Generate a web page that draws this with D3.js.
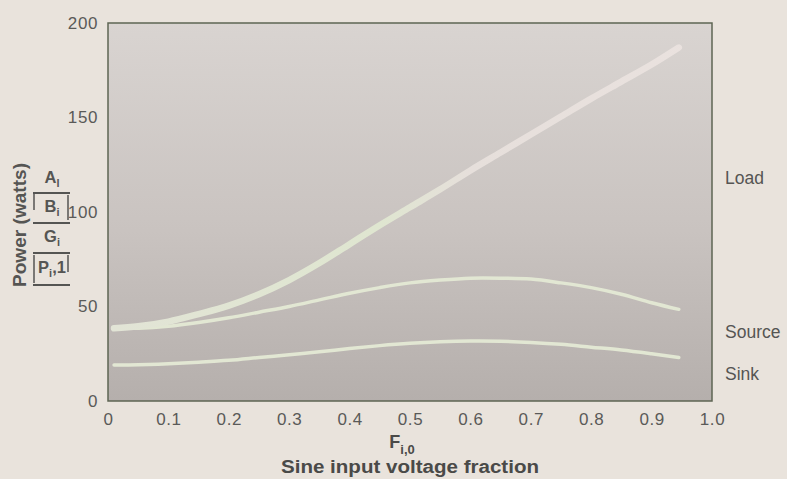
<!DOCTYPE html>
<html>
<head>
<meta charset="utf-8">
<script src="https://cdn.jsdelivr.net/npm/d3@7"></script>
<style>
  body { margin: 0; background: #e9e3dc; }
  svg { display: block; font-family: "Liberation Sans", Arial, Helvetica, sans-serif; }
</style>
</head>
<body>
<script>
// sine input voltage fraction (x) and power curves
var fraction = [0.01, 0.05, 0.1, 0.15, 0.2, 0.25, 0.3, 0.35, 0.4, 0.45, 0.5, 0.55, 0.6, 0.65, 0.7, 0.75, 0.8, 0.85, 0.9, 0.945];
var loadPower = [38.5, 39.5, 42, 46, 50.5, 56.5, 64, 73, 83, 93, 102.5, 112, 122, 131.5, 141, 150.5, 160, 169, 178, 187];
var sourcePower = [38.5, 38.5, 39.5, 41.5, 44, 47, 50, 53.5, 57, 60, 62.5, 64, 65, 65, 64.5, 62.5, 60, 56.5, 52, 48.5];
var sinkPower = [19, 19.2, 19.7, 20.5, 21.5, 23, 24.5, 26, 27.8, 29.3, 30.5, 31.3, 31.7, 31.6, 31, 30, 28.5, 27, 25, 23];

var xTicks = [0, 0.1, 0.2, 0.3, 0.4, 0.5, 0.6, 0.7, 0.8, 0.9, 1.0];
var yTicks = [0, 50, 100, 150, 200];
var seriesNames = ["Load", "Source", "Sink"];
var seriesLabelValues = [115, 33.5, 11]; // where the side labels sit on the power scale

var svg = d3.select("body").append("svg").attr("width", 787).attr("height", 479);

var x = d3.scaleLinear().domain([0, 1]).range([108, 712]);
var y = d3.scaleLinear().domain([0, 200]).range([401, 23]);

var defs = svg.append("defs");
var grad = defs.append("linearGradient").attr("id", "bg").attr("x1", 0).attr("y1", 0).attr("x2", 0).attr("y2", 1);
grad.append("stop").attr("offset", "0%").attr("stop-color", "#d9d4d1");
grad.append("stop").attr("offset", "55%").attr("stop-color", "#c9c3c0");
grad.append("stop").attr("offset", "100%").attr("stop-color", "#b5afac");

// load trace fades from greenish to pinkish white
var lg = defs.append("linearGradient").attr("id", "loadgrad").attr("gradientUnits", "userSpaceOnUse")
    .attr("x1", x(0)).attr("y1", 0).attr("x2", x(1)).attr("y2", 0);
lg.append("stop").attr("offset", "0%").attr("stop-color", "#e2e4d6");
lg.append("stop").attr("offset", "45%").attr("stop-color", "#dfe6d0");
lg.append("stop").attr("offset", "60%").attr("stop-color", "#e6dfdb");
lg.append("stop").attr("offset", "100%").attr("stop-color", "#eae2df");

// plot area
svg.append("rect")
    .attr("x", x(0)).attr("y", y(200))
    .attr("width", x(1) - x(0)).attr("height", y(0) - y(200))
    .style("fill", "url(#bg)")
    .style("stroke", "#5e6553")
    .style("stroke-width", 1.5);

// axes, labels only
var xAxis = svg.append("g").attr("transform", "translate(0," + (y(0) + 9) + ")")
    .call(d3.axisBottom(x).tickValues(xTicks).tickSize(0)
        .tickFormat(function(d) { return d === 0 ? "0" : d3.format(".1f")(d); }));
xAxis.select(".domain").remove();
xAxis.selectAll("text").style("font-size", "17px").style("letter-spacing", "0.6px").style("fill", "#5a5a58").style("font-family", "Liberation Sans, Arial, sans-serif");

var yAxis = svg.append("g").attr("transform", "translate(" + (x(0) - 7) + ",0)")
    .call(d3.axisLeft(y).tickValues(yTicks).tickSize(0));
yAxis.select(".domain").remove();
yAxis.selectAll("text").attr("dy", "0.3em").style("font-size", "17px").style("letter-spacing", "0.6px").style("fill", "#5a5a58").style("font-family", "Liberation Sans, Arial, sans-serif");

// curves
var line = d3.line()
    .x(function(d, i) { return x(fraction[i]); })
    .y(function(d) { return y(d); })
    .curve(d3.curveCatmullRom);

svg.append("path").datum(sinkPower).attr("d", line)
    .style("fill", "none").style("stroke", "#e2e7d3").style("stroke-width", 3.5).style("stroke-linecap", "round");
svg.append("path").datum(sourcePower).attr("d", line)
    .style("fill", "none").style("stroke", "#e2e7d3").style("stroke-width", 3.5).style("stroke-linecap", "round");
svg.append("path").datum(loadPower).attr("d", line)
    .style("fill", "none").style("stroke", "url(#loadgrad)").style("stroke-width", 6.5).style("stroke-linecap", "round");

// series names on the right
for (var i = 0; i < seriesNames.length; i++) {
    svg.append("text")
        .attr("x", 725)
        .attr("y", y(seriesLabelValues[i]))
        .style("font-size", "17.5px")
        .style("fill", "#555553")
        .text(seriesNames[i]);
}

// x axis titles
var fx = svg.append("text")
    .attr("x", x(0.5) - 8).attr("y", 448)
    .attr("text-anchor", "middle")
    .style("font-size", "18px").style("font-weight", "bold").style("fill", "#4a4a48");
fx.append("tspan").text("F");
fx.append("tspan").attr("dy", 6).style("font-size", "13px").text("i,0");

svg.append("text")
    .attr("x", x(0.5)).attr("y", 473)
    .attr("text-anchor", "middle")
    .attr("textLength", 258).attr("lengthAdjust", "spacingAndGlyphs")
    .style("font-size", "18px").style("font-weight", "bold").style("fill", "#4a4a48")
    .text("Sine input voltage fraction");

// y axis title
svg.append("text")
    .attr("transform", "translate(26,225) rotate(-90)")
    .attr("text-anchor", "middle")
    .attr("textLength", 124).attr("lengthAdjust", "spacingAndGlyphs")
    .style("font-size", "18.5px").style("font-weight", "bold").style("fill", "#555553")
    .text("Power (watts)");

// stacked trace names
var stack = [["A", "l"], ["B", "i"], ["G", "i"], ["P", "i", ",1"]];
var stackBase = [183, 212, 242, 273];
for (var k = 0; k < stack.length; k++) {
    var t = svg.append("text")
        .attr("x", 52).attr("y", stackBase[k])
        .attr("text-anchor", "middle")
        .style("font-size", "16.5px").style("font-weight", "bold").style("fill", "#555553");
    t.append("tspan").text(stack[k][0]);
    t.append("tspan").attr("dy", 4).style("font-size", "11px").text(stack[k][1]);
    if (stack[k][2]) t.append("tspan").attr("dy", -4).text(stack[k][2]);
}
var rules = [193, 223, 253, 285];
rules.forEach(function(r) {
    svg.append("line").attr("x1", 33).attr("x2", 70).attr("y1", r).attr("y2", r)
        .style("stroke", "#555553").style("stroke-width", 2.2);
});
var bars = [[34, 193, 210], [68, 195, 220], [34, 255, 283], [68, 255, 272]];
bars.forEach(function(b) {
    svg.append("line").attr("x1", b[0]).attr("x2", b[0]).attr("y1", b[1]).attr("y2", b[2])
        .style("stroke", "#555553").style("stroke-width", 1.5);
});
</script>
</body>
</html>
